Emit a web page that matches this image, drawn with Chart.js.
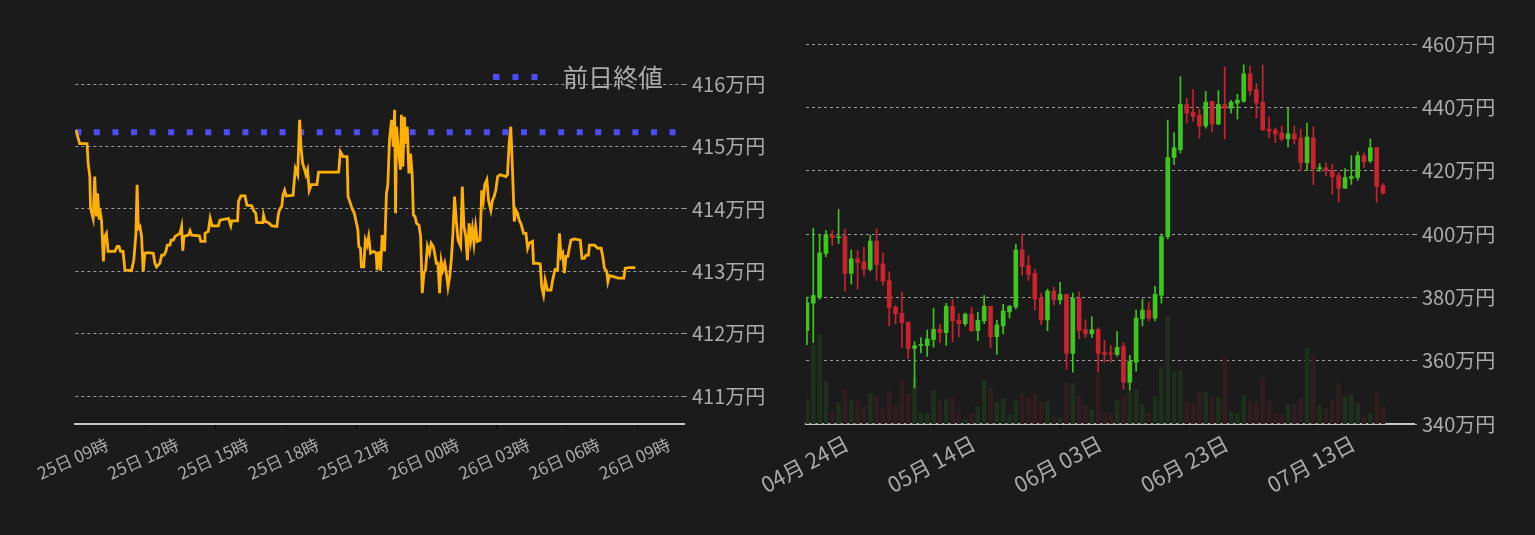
<!DOCTYPE html>
<html lang="ja">
<head>
<meta charset="utf-8">
<title>BTC/JPY</title>
<script src="https://cdn.jsdelivr.net/npm/chart.js@4.4.1/dist/chart.umd.min.js"></script>
<style>
  html, body { margin: 0; padding: 0; background: #1b1b1b; overflow: hidden; }
  #wrap { position: relative; width: 1535px; height: 535px; }
  #wrap canvas { position: absolute; top: 0; }
  #intraday { left: 0; }
  #daily { left: 700px; }
</style>
</head>
<body>
<div id="wrap">
  <canvas id="intraday" width="780" height="535"></canvas>
  <canvas id="daily" width="835" height="535"></canvas>
</div>
<script>
// ---- intraday (hours after 25日 09時, price in 万円) ----
var hours = [0.02, 0.19, 0.50, 0.55, 0.62, 0.65, 0.76, 0.83, 0.90, 0.95, 1.02, 1.04, 1.12, 1.16, 1.20, 1.26, 1.33, 1.40, 1.69, 1.79,
  1.87, 1.93, 2.04, 2.12, 2.40, 2.50, 2.59, 2.64, 2.69, 2.76, 2.83, 2.90, 2.97, 3.11, 3.33, 3.40, 3.47, 3.61, 3.69, 3.79,
  3.87, 3.93, 4.04, 4.09, 4.19, 4.26, 4.47, 4.54, 4.59, 4.64, 4.83, 4.90, 4.97, 5.30, 5.36, 5.50, 5.54, 5.68, 5.76, 5.84,
  6.11, 6.18, 6.54, 6.64, 6.68, 6.93, 6.97, 7.07, 7.25, 7.33, 7.54, 7.61, 7.71, 7.75, 8.01, 8.04, 8.11, 8.25, 8.40, 8.61,
  8.68, 8.75, 8.82, 8.87, 8.94, 9.01, 9.30, 9.35, 9.40, 9.50, 9.58, 9.64, 9.71, 9.78, 9.85, 9.92, 9.99, 10.08, 10.32, 10.39,
  11.25, 11.32, 11.44, 11.61, 11.65, 11.75, 11.82, 11.92, 12.01, 12.07, 12.11, 12.18, 12.22, 12.32, 12.39, 12.46, 12.53, 12.61, 12.75, 12.85,
  12.89, 12.97, 13.04, 13.11, 13.21, 13.29, 13.35, 13.42, 13.51, 13.58, 13.64, 13.68, 13.72, 13.82, 13.89, 13.93, 13.99, 14.06, 14.11, 14.18,
  14.25, 14.32, 14.39, 14.44, 14.51, 14.58, 14.68, 14.75, 14.82, 14.89, 14.96, 15.04, 15.13, 15.20, 15.29, 15.35, 15.42, 15.49, 15.56, 15.63,
  15.70, 15.78, 15.85, 15.92, 15.99, 16.06, 16.13, 16.20, 16.27, 16.35, 16.46, 16.53, 16.60, 16.68, 16.75, 16.82, 16.89, 16.96, 17.03, 17.10,
  17.18, 17.29, 17.36, 17.43, 17.49, 17.58, 17.65, 17.75, 17.82, 17.89, 17.96, 18.04, 18.15, 18.39, 18.46, 18.53, 18.60, 18.68, 18.75, 18.82,
  18.89, 18.96, 19.03, 19.15, 19.25, 19.32, 19.39, 19.53, 19.57, 19.67, 19.86, 19.92, 20.00, 20.07, 20.17, 20.32, 20.39, 20.49, 20.60, 20.68,
  20.75, 20.82, 20.89, 20.96, 21.04, 21.10, 21.17, 21.32, 21.57, 21.64, 21.74, 21.82, 21.92, 21.96, 22.18, 22.32, 22.46, 22.53, 22.60, 22.70,
  22.75, 22.82, 23.03, 23.18, 23.43, 23.49, 23.68, 23.92];
var prices = [415.27, 415.05, 415.05, 414.73, 414.52, 414.01, 413.85, 414.52, 413.88, 414.25, 413.85, 414.01, 413.82, 413.50, 413.16, 413.56, 413.61, 413.32, 413.32, 413.40,
  413.40, 413.32, 413.32, 413.02, 413.01, 413.18, 413.61, 414.39, 413.69, 413.72, 413.56, 413.00, 413.29, 413.30, 413.29, 413.13, 413.07, 413.13, 413.26, 413.26,
  413.32, 413.42, 413.42, 413.50, 413.50, 413.56, 413.61, 413.72, 413.33, 413.56, 413.58, 413.65, 413.58, 413.57, 413.48, 413.48, 413.61, 413.64, 413.85, 413.73,
  413.73, 413.82, 413.85, 413.73, 413.81, 413.81, 414.12, 414.21, 414.21, 414.06, 414.05, 413.98, 413.93, 413.78, 413.78, 413.90, 413.80, 413.78, 413.73, 413.72,
  413.93, 414.01, 414.04, 414.22, 414.30, 414.21, 414.22, 414.44, 414.65, 414.55, 415.43, 415.00, 414.73, 414.65, 414.55, 414.63, 414.30, 414.39, 414.39, 414.59,
  414.59, 414.92, 414.84, 414.84, 414.20, 414.09, 414.01, 413.93, 413.77, 413.66, 413.40, 413.37, 413.07, 413.07, 413.50, 413.42, 413.56, 413.29, 413.32, 413.29,
  413.02, 413.32, 413.01, 413.58, 413.32, 414.25, 414.39, 415.11, 415.43, 415.00, 415.59, 413.93, 415.32, 414.89, 414.63, 415.51, 414.68, 415.48, 415.05, 415.32,
  414.57, 414.89, 414.55, 413.90, 413.88, 413.77, 413.74, 413.56, 412.65, 412.97, 413.02, 413.40, 413.29, 413.45, 413.40, 413.29, 413.13, 413.13, 412.65, 413.16,
  413.02, 413.13, 412.97, 412.75, 412.91, 413.18, 413.61, 414.20, 413.82, 413.50, 413.40, 414.36, 413.72, 413.56, 413.18, 413.77, 413.50, 413.69, 413.45, 413.72,
  413.48, 413.50, 414.30, 414.14, 414.39, 414.47, 414.14, 413.98, 414.14, 414.20, 414.30, 414.52, 414.55, 414.52, 414.55, 415.05, 415.32, 414.57, 413.80, 413.98,
  413.93, 413.82, 413.77, 413.61, 413.61, 413.37, 413.45, 413.48, 413.13, 413.13, 413.12, 412.75, 412.62, 412.86, 412.70, 412.70, 412.86, 413.03, 413.02, 413.61,
  413.24, 413.29, 412.97, 413.24, 413.24, 413.37, 413.50, 413.52, 413.50, 413.21, 413.21, 413.26, 413.26, 413.42, 413.42, 413.37, 413.37, 413.24, 413.05, 413.00,
  412.83, 412.93, 412.91, 412.89, 412.89, 413.05, 413.06, 413.06];
var prevClose = 415.23;
var hourTicks = ['25日 09時', '25日 12時', '25日 15時', '25日 18時', '25日 21時', '26日 00時', '26日 03時', '26日 06時', '26日 09時'];

// ---- daily candles from 04月 24日 (万円) ----
var opens = [369.5, 378.2, 380.0, 393.9, 399.6, 398.9, 399.4, 387.6, 392.2, 391.3, 388.9, 397.8, 390.6, 385.3, 376.9, 375.0, 372.2, 363.9, 364.8, 364.8,
  366.7, 369.9, 368.9, 377.2, 372.8, 371.7, 374.7, 369.5, 372.6, 377.2, 367.6, 371.0, 375.4, 377.0, 395.1, 390.1, 387.6, 379.8, 372.9, 382.0,
  379.2, 381.0, 362.3, 379.8, 369.8, 368.5, 369.8, 362.6, 362.3, 362.0, 364.5, 353.2, 359.5, 373.2, 376.0, 373.5, 380.7, 399.2, 424.2, 426.7,
  441.0, 438.5, 437.6, 434.2, 442.0, 434.8, 441.0, 439.8, 441.4, 442.0, 450.7, 445.7, 441.7, 433.2, 432.9, 432.0, 430.1, 431.7, 430.4, 422.6,
  430.4, 420.7, 421.0, 420.1, 418.5, 414.5, 417.6, 417.9, 424.8, 423.2, 427.3, 415.4];
var highs = [380.1, 401.9, 399.9, 401.1, 401.1, 407.8, 401.6, 395.0, 394.7, 395.9, 399.7, 401.6, 394.1, 388.1, 377.5, 381.6, 372.2, 366.0, 367.3, 369.7,
  376.6, 371.5, 378.1, 379.4, 374.9, 375.1, 376.9, 375.3, 380.6, 377.2, 372.8, 377.8, 377.5, 396.9, 400.1, 393.2, 388.9, 381.4, 382.6, 383.2,
  384.8, 381.0, 381.4, 381.7, 372.9, 373.9, 370.4, 366.4, 364.8, 369.2, 365.7, 361.7, 376.0, 379.5, 378.5, 383.5, 400.1, 436.0, 432.0, 449.8,
  442.9, 445.7, 439.5, 445.1, 442.0, 445.4, 452.9, 442.3, 444.2, 453.5, 453.2, 447.6, 453.5, 437.0, 433.5, 434.2, 439.8, 434.2, 433.2, 435.1,
  433.9, 422.3, 422.6, 422.0, 419.5, 420.7, 424.8, 426.0, 425.7, 430.1, 427.3, 416.0];
var lows = [365.1, 365.7, 379.4, 392.9, 396.4, 397.0, 382.0, 384.2, 382.6, 386.7, 388.4, 385.4, 383.9, 371.0, 371.7, 364.2, 360.7, 351.4, 362.5, 361.4,
  364.2, 365.7, 364.9, 366.0, 367.6, 371.0, 369.2, 366.3, 371.7, 364.2, 362.0, 368.5, 373.5, 376.4, 387.0, 385.4, 376.0, 371.4, 369.5, 377.6,
  377.9, 357.3, 356.4, 367.0, 367.3, 367.3, 356.4, 359.5, 359.5, 361.4, 351.0, 350.7, 356.7, 371.0, 372.6, 372.6, 378.2, 398.5, 422.0, 425.7,
  435.1, 435.7, 430.4, 433.5, 432.3, 434.5, 430.1, 438.2, 436.4, 441.7, 443.9, 436.7, 432.9, 430.4, 428.9, 429.5, 427.6, 428.5, 420.1, 420.1,
  415.7, 419.8, 418.5, 412.6, 410.1, 414.5, 415.7, 417.0, 421.0, 422.6, 410.1, 412.6];
var closes = [378.3, 380.6, 394.1, 399.8, 398.9, 399.1, 387.6, 392.2, 391.0, 388.9, 397.8, 390.4, 385.1, 376.7, 374.8, 372.0, 363.9, 364.7, 365.1, 366.9,
  369.9, 368.9, 377.2, 372.6, 371.7, 374.7, 369.5, 372.8, 377.2, 367.6, 371.3, 375.7, 377.2, 395.0, 389.8, 387.3, 379.5, 372.9, 382.0, 379.2,
  381.0, 362.3, 379.8, 369.5, 368.5, 369.8, 362.3, 362.0, 362.1, 364.2, 353.2, 359.8, 373.5, 376.0, 373.5, 381.0, 399.2, 424.2, 427.3, 441.0,
  438.2, 437.3, 434.2, 441.7, 434.8, 441.0, 439.8, 441.7, 442.3, 450.7, 445.4, 441.4, 432.9, 432.6, 431.7, 430.1, 431.7, 430.1, 422.6, 430.7,
  420.7, 421.0, 420.1, 418.2, 414.5, 417.9, 418.2, 424.8, 422.9, 427.3, 415.1, 412.9];
var volumes = [73, 235, 268, 127, 40, 64, 103, 70, 70, 55, 91, 85, 46, 100, 55, 130, 91, 139, 34, 31,
  100, 70, 73, 82, 43, 13, 31, 52, 130, 109, 64, 76, 28, 70, 91, 79, 91, 67, 67, 22,
  19, 124, 121, 85, 58, 43, 148, 31, 34, 73, 85, 97, 103, 58, 31, 82, 169, 322, 157, 160,
  67, 61, 97, 94, 82, 79, 199, 37, 31, 85, 70, 64, 139, 70, 31, 28, 58, 58, 76, 226,
  208, 55, 46, 70, 121, 82, 88, 61, 22, 31, 94, 52];
var dayTicks = ['04月 24日', '05月 14日', '06月 03日', '06月 23日', '07月 13日'];

var TEXT = '#ababab';
var GRID = 'rgba(200, 200, 200, 0.75)';
var AXIS = '#c8c8c8';
var LINE_COLOR = '#ffb000';
var CLOSE_COLOR = '#4d4dff';
var UP = '#3fc51f', DOWN = '#c8232f';
var UP_VOL = '#1e301d', DOWN_VOL = '#311d1f';

Chart.defaults.font.family = "'Noto Sans CJK JP', 'Noto Sans', sans-serif";
Chart.defaults.color = TEXT;
Chart.defaults.animation = false;

// legend sample: three square dots like the dotted line
function dottedMarker() {
  var c = document.createElement('canvas');
  c.width = 57;
  c.height = 6;
  var g = c.getContext('2d');
  g.fillStyle = CLOSE_COLOR;
  [0, 19, 38].forEach(function (x) { g.fillRect(x, 0, 6, 6); });
  return c;
}

// the chartArea legend is laid out as a column on the left; move it to the top right
var legendTopRight = {
  id: 'legendTopRight',
  afterLayout: function (chart) {
    var lg = chart.legend;
    if (!lg || !lg.options.display) return;
    lg.left = chart.chartArea.right - lg.width - 11;
    lg.right = lg.left + lg.width;
    lg.top = chart.chartArea.top;
    lg.bottom = lg.top + lg.height;
  }
};

// rotated labels are centred on their tick, so no extra side padding is needed
function fixAxisHeight(h) {
  return function (scale) {
    scale.height = h;
    scale.paddingLeft = 0;
    scale.paddingRight = 0;
  };
}

function yenTick(v) { return v + '万円'; }

var intraday = new Chart(document.getElementById('intraday'), {
  type: 'line',
  data: {
    datasets: [{
      label: '価格',
      data: hours.map(function (h, i) { return { x: h, y: prices[i] }; }),
      borderColor: LINE_COLOR,
      borderWidth: 2.8,
      pointRadius: 0,
      tension: 0
    }, {
      label: '前日終値',
      data: [{ x: 0, y: prevClose }, { x: 26, y: prevClose }],
      borderColor: CLOSE_COLOR,
      backgroundColor: CLOSE_COLOR,
      borderWidth: 6,
      borderDash: [6, 12.57],
      borderCapStyle: 'butt',
      pointRadius: 0
    }]
  },
  plugins: [legendTopRight],
  options: {
    responsive: false,
    layout: { padding: { left: 75.3, top: 40, right: 0, bottom: 0 } },
    plugins: {
      tooltip: { enabled: false },
      legend: {
        position: 'chartArea',
        align: 'start',
        labels: {
          usePointStyle: true,
          pointStyle: dottedMarker(),
          pointStyleWidth: 57,
          padding: 24.5,
          color: TEXT,
          font: { size: 25 },
          filter: function (item) { return item.datasetIndex === 1; }
        }
      }
    },
    scales: {
      x: {
        type: 'linear',
        min: 0,
        max: 26,
        afterFit: fixAxisHeight(111),
        grid: { drawOnChartArea: false, tickLength: 5, color: '#050505' },
        border: { color: AXIS, width: 2 },
        ticks: {
          stepSize: 3,
          includeBounds: false,
          autoSkip: false,
          minRotation: 24,
          maxRotation: 24,
          labelOffset: 32,
          padding: 5,
          font: { size: 17 },
          color: TEXT,
          callback: function (v) { return hourTicks[v / 3]; }
        }
      },
      y: {
        position: 'right',
        min: 410.551,
        max: 416.711,
        afterFit: function (scale) { scale.width = 96; },
        grid: { color: GRID, tickLength: 4, tickBorderDash: [3, 3] },
        border: { display: false, dash: [3, 3] },
        ticks: {
          stepSize: 1,
          includeBounds: false,
          padding: 4,
          font: { size: 20 },
          color: TEXT,
          callback: yenTick
        }
      }
    }
  }
});

var upDay = opens.map(function (o, i) { return closes[i] >= o; });

var daily = new Chart(document.getElementById('daily'), {
  type: 'bar',
  data: {
    datasets: [{
      label: '実体',
      data: opens.map(function (o, i) { return { x: i, y: [o, closes[i]] }; }),
      backgroundColor: upDay.map(function (u) { return u ? UP : DOWN; }),
      barThickness: 4,
      minBarLength: 1,
      grouped: false,
      order: 0
    }, {
      label: 'ヒゲ',
      data: lows.map(function (l, i) { return { x: i, y: [l, highs[i]] }; }),
      backgroundColor: upDay.map(function (u) { return u ? UP : DOWN; }),
      barThickness: 1,
      grouped: false,
      order: 1
    }, {
      label: '出来高',
      yAxisID: 'yv',
      data: volumes.map(function (v, i) { return { x: i, y: v }; }),
      backgroundColor: upDay.map(function (u) { return u ? UP_VOL : DOWN_VOL; }),
      barThickness: 4,
      grouped: false,
      order: 2
    }]
  },
  options: {
    responsive: false,
    layout: { padding: { left: 106, top: 40, right: 0, bottom: 0 } },
    plugins: { legend: { display: false }, tooltip: { enabled: false } },
    scales: {
      x: {
        type: 'linear',
        offset: false,
        min: -0.15,
        max: 95.9,
        afterFit: fixAxisHeight(111),
        grid: { drawOnChartArea: false, offset: false, tickLength: 5, color: '#050505' },
        border: { color: AXIS, width: 2 },
        ticks: {
          stepSize: 20,
          includeBounds: false,
          autoSkip: false,
          minRotation: 28,
          maxRotation: 28,
          labelOffset: 40,
          padding: 1,
          font: { size: 21.5 },
          color: TEXT,
          callback: function (v) { return dayTicks[v / 20]; }
        }
      },
      y: {
        position: 'right',
        min: 340,
        max: 461.36,
        afterFit: function (scale) { scale.width = 121; },
        grid: { color: GRID, tickLength: 4, tickBorderDash: [3, 3] },
        border: { display: false, dash: [3, 3] },
        ticks: {
          stepSize: 20,
          includeBounds: false,
          padding: 4,
          font: { size: 20 },
          color: TEXT,
          callback: yenTick
        }
      },
      yv: {
        display: false,
        min: 0,
        max: 1152
      }
    }
  }
});
</script>
</body>
</html>
